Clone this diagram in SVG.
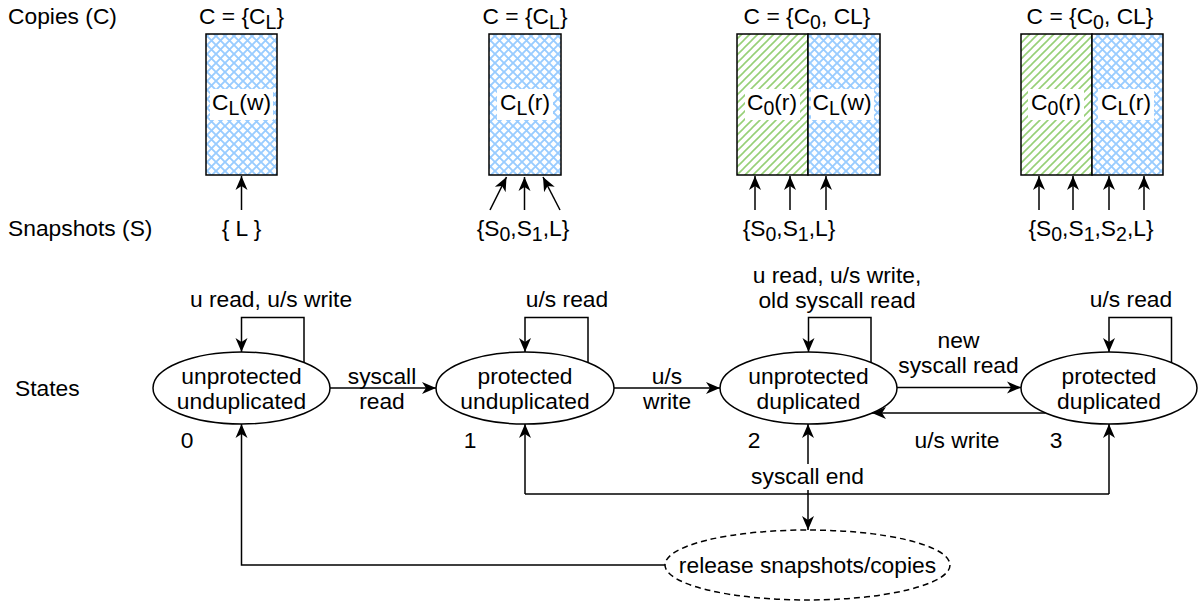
<svg xmlns="http://www.w3.org/2000/svg" width="1199" height="602" viewBox="0 0 1199 602">
<style>
.t{font-family:"Liberation Sans",Arial,Helvetica,sans-serif;font-size:22.8px;fill:#000}
.m{text-anchor:middle}
.ln{fill:none;stroke:#000;stroke-width:1.5}
.ar{marker-end:url(#arr)}
.box{stroke:#000;stroke-width:1.5}
.bg{fill:#fff}
.st{fill:#fff;stroke:#000;stroke-width:1.5}
.sb{font-size:19.5px}
</style>
<defs>
<pattern id="xh" patternUnits="userSpaceOnUse" width="9" height="9">
<rect width="9" height="9" fill="#fff"/>
<path d="M-1,-1 L10,10 M-1,10 L10,-1" stroke="#99ccff" stroke-width="1.9" fill="none"/>
</pattern>
<pattern id="gh" patternUnits="userSpaceOnUse" width="8" height="8">
<rect width="8" height="8" fill="#fff"/>
<path d="M-1,9 L9,-1 M-1,1 L1,-1 M7,9 L9,7" stroke="#97d077" stroke-width="1.6" fill="none"/>
</pattern>
<marker id="arr" viewBox="0 0 14 13" refX="14" refY="6.5" markerWidth="14" markerHeight="13" markerUnits="userSpaceOnUse" orient="auto">
<path d="M0,0.5 L14,6.5 L0,12.5 L4,6.5 z" fill="#000"/>
</marker>
</defs>
<rect width="1199" height="602" fill="#fff"/>

<g id="row-labels">
<text class="t" x="8" y="24">Copies (C)</text>
<text class="t" x="8" y="236">Snapshots (S)</text>
<text class="t" x="15" y="396">States</text>
</g>

<g id="copies-0">
<text class="t m" x="241.5" y="24">C = {C<tspan class="sb" dy="5">L</tspan><tspan dy="-5">}</tspan></text>
<rect class="box" x="206" y="34" width="71" height="141" fill="url(#xh)"/>
<rect class="bg" x="210" y="89" width="63" height="31"/>
<text class="t m" x="241.5" y="110">C<tspan class="sb" dy="5">L</tspan><tspan dy="-5">(w)</tspan></text>
<text class="t m" x="241.5" y="236">{ L }</text>
</g>

<g id="copies-1">
<text class="t m" x="525" y="24">C = {C<tspan class="sb" dy="5">L</tspan><tspan dy="-5">}</tspan></text>
<rect class="box" x="489" y="34" width="72" height="141" fill="url(#xh)"/>
<rect class="bg" x="497" y="89" width="56" height="31"/>
<text class="t m" x="525" y="110">C<tspan class="sb" dy="5">L</tspan><tspan dy="-5">(r)</tspan></text>
<text class="t m" x="523" y="236">{S<tspan class="sb" dy="5">0</tspan><tspan dy="-5">,S</tspan><tspan class="sb" dy="5">1</tspan><tspan dy="-5">,L}</tspan></text>
</g>

<g id="copies-2">
<text class="t m" x="807" y="24">C = {C<tspan class="sb" dy="5">0</tspan><tspan dy="-5">, CL}</tspan></text>
<rect class="box" x="737" y="34" width="71" height="141" fill="url(#gh)"/>
<rect class="box" x="808" y="34" width="72" height="141" fill="url(#xh)"/>
<rect class="bg" x="745" y="89" width="55" height="31"/>
<rect class="bg" x="811" y="89" width="63" height="31"/>
<text class="t m" x="772" y="110">C<tspan class="sb" dy="5">0</tspan><tspan dy="-5">(r)</tspan></text>
<text class="t m" x="842" y="110">C<tspan class="sb" dy="5">L</tspan><tspan dy="-5">(w)</tspan></text>
<text class="t m" x="789" y="236">{S<tspan class="sb" dy="5">0</tspan><tspan dy="-5">,S</tspan><tspan class="sb" dy="5">1</tspan><tspan dy="-5">,L}</tspan></text>
</g>

<g id="copies-3">
<text class="t m" x="1090" y="24">C = {C<tspan class="sb" dy="5">0</tspan><tspan dy="-5">, CL}</tspan></text>
<rect class="box" x="1021" y="34" width="71" height="141" fill="url(#gh)"/>
<rect class="box" x="1092" y="34" width="71" height="141" fill="url(#xh)"/>
<rect class="bg" x="1028" y="89" width="56" height="31"/>
<rect class="bg" x="1098" y="89" width="56" height="31"/>
<text class="t m" x="1056" y="110">C<tspan class="sb" dy="5">0</tspan><tspan dy="-5">(r)</tspan></text>
<text class="t m" x="1126" y="110">C<tspan class="sb" dy="5">L</tspan><tspan dy="-5">(r)</tspan></text>
<text class="t m" x="1091" y="236">{S<tspan class="sb" dy="5">0</tspan><tspan dy="-5">,S</tspan><tspan class="sb" dy="5">1</tspan><tspan dy="-5">,S</tspan><tspan class="sb" dy="5">2</tspan><tspan dy="-5">,L}</tspan></text>
</g>

<g id="state-0">
<ellipse class="st" cx="241.5" cy="388" rx="88.5" ry="36"/>
<text class="t m" x="241.5" y="384">unprotected</text>
<text class="t m" x="241.5" y="409">unduplicated</text>
<text class="t m" x="187" y="448">0</text>
</g>
<g id="state-1">
<ellipse class="st" cx="525" cy="388" rx="89" ry="36"/>
<text class="t m" x="525" y="384">protected</text>
<text class="t m" x="525" y="409">unduplicated</text>
<text class="t m" x="470" y="448">1</text>
</g>
<g id="state-2">
<ellipse class="st" cx="808.5" cy="388" rx="88.5" ry="36"/>
<text class="t m" x="808.5" y="384">unprotected</text>
<text class="t m" x="808.5" y="409">duplicated</text>
<text class="t m" x="754" y="448">2</text>
</g>
<g id="state-3">
<ellipse class="st" cx="1109" cy="388" rx="88" ry="36"/>
<text class="t m" x="1109" y="384">protected</text>
<text class="t m" x="1109" y="409">duplicated</text>
<text class="t m" x="1056" y="448">3</text>
</g>
<g id="release">
<ellipse cx="807.5" cy="565" rx="142.5" ry="35" fill="#fff" stroke="#000" stroke-width="1.5" stroke-dasharray="6 4"/>
<text class="t m" x="807.5" y="573">release snapshots/copies</text>
</g>

<g id="connectors">
<line class="ln ar" x1="241.5" y1="210" x2="241.5" y2="176"/>
<line class="ln ar" x1="490" y1="210" x2="506.5" y2="177"/>
<line class="ln ar" x1="524.5" y1="210" x2="524.5" y2="177"/>
<line class="ln ar" x1="560" y1="210" x2="543" y2="177"/>
<line class="ln ar" x1="755" y1="210" x2="755" y2="176"/>
<line class="ln ar" x1="790" y1="210" x2="790" y2="176"/>
<line class="ln ar" x1="826" y1="210" x2="826" y2="176"/>
<line class="ln ar" x1="1039" y1="210" x2="1039" y2="176"/>
<line class="ln ar" x1="1073" y1="210" x2="1073" y2="176"/>
<line class="ln ar" x1="1109" y1="210" x2="1109" y2="176"/>
<line class="ln ar" x1="1144" y1="210" x2="1144" y2="176"/>
<path class="ln ar" d="M304,362.6 V317.5 H241.5 V352"/>
<text class="t m" x="271" y="307">u read, u/s write</text>
<path class="ln ar" d="M588,362.6 V317.5 H525 V352"/>
<text class="t m" x="567" y="307">u/s read</text>
<path class="ln ar" d="M871,362.6 V317.5 H808.5 V352"/>
<text class="t m" x="837" y="283">u read, u/s write,</text>
<text class="t m" x="837" y="308">old syscall read</text>
<path class="ln ar" d="M1171.5,362.6 V317.5 H1109 V352"/>
<text class="t m" x="1131" y="307">u/s read</text>
<line class="ln ar" x1="330" y1="388" x2="436" y2="388"/>
<text class="t m" x="382" y="384">syscall</text>
<text class="t m" x="382" y="409">read</text>
<line class="ln ar" x1="614" y1="388" x2="720" y2="388"/>
<text class="t m" x="667" y="384">u/s</text>
<text class="t m" x="667" y="409">write</text>
<line class="ln ar" x1="897" y1="387.5" x2="1021" y2="387.5"/>
<text class="t m" x="958.5" y="348">new</text>
<text class="t m" x="958.5" y="373">syscall read</text>
<line class="ln ar" x1="1045.5" y1="413" x2="872" y2="413"/>
<text class="t m" x="957" y="448">u/s write</text>
<path class="ln" d="M525,494 H1109"/>
<line class="ln ar" x1="525" y1="494" x2="525" y2="424"/>
<line class="ln ar" x1="1109" y1="494" x2="1109" y2="424"/>
<line class="ln ar" x1="808" y1="494" x2="808" y2="424"/>
<line class="ln ar" x1="808" y1="494" x2="808" y2="530"/>
<rect class="bg" x="748" y="464" width="120" height="26"/>
<text class="t m" x="807.5" y="484">syscall end</text>
<path class="ln ar" d="M665,565 H241.5 V424"/>
</g>
</svg>
